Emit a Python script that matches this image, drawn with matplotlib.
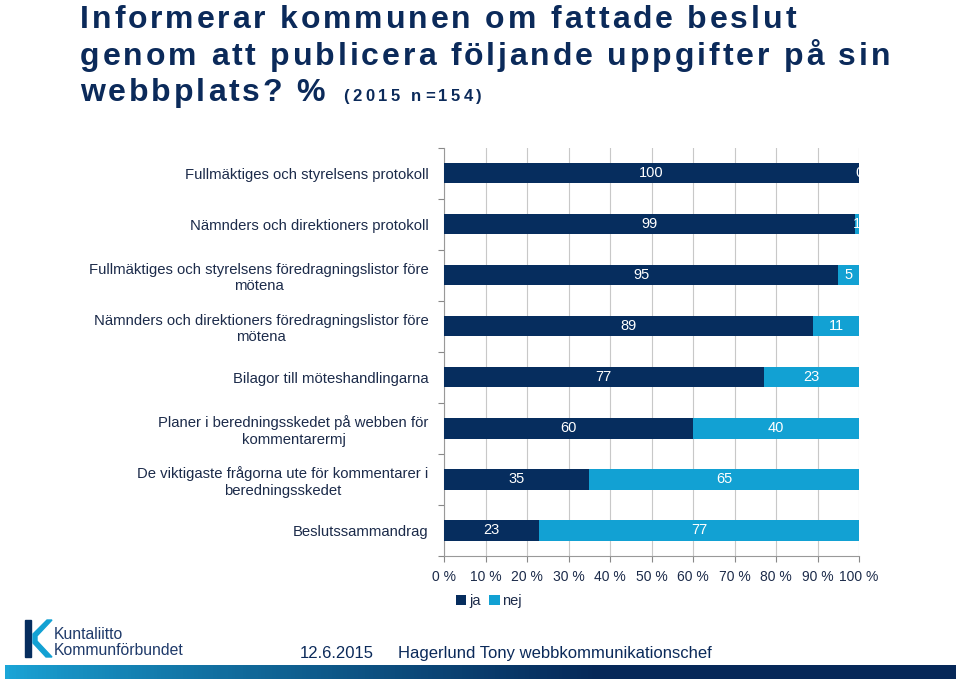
import numpy as np
import matplotlib
matplotlib.use("Agg")
import matplotlib.pyplot as plt
from matplotlib.font_manager import FontProperties
from matplotlib.patches import Rectangle, Polygon

categories = [
    "Fullmäktiges och styrelsens protokoll",
    "Nämnders och direktioners protokoll",
    "Fullmäktiges och styrelsens föredragningslistor före\nmötena",
    "Nämnders och direktioners föredragningslistor före\nmötena",
    "Bilagor till möteshandlingarna",
    "Planer i beredningsskedet på webben för\nkommentarermj",
    "De viktigaste frågorna ute för kommentarer i\nberedningsskedet",
    "Beslutssammandrag",
]
ja = [100, 99, 95, 89, 77, 60, 35, 23]
nej = [0, 1, 5, 11, 23, 40, 65, 77]
series_names = ["ja", "nej"]
xtick_vals = [0, 10, 20, 30, 40, 50, 60, 70, 80, 90, 100]
xtick_labels = [f"{v} %" for v in xtick_vals]

NAVY = "#062d5e"
CYAN = "#12a1d3"
TXT = "#1c2b4a"
W, H = 960, 681

fig = plt.figure(figsize=(9.6, 6.81), dpi=100)
fig.patch.set_facecolor("white")
renderer = fig.canvas.get_renderer()

def fx(px):
    return px / W

def fy(py):
    return 1 - py / H

def char_widths(s, prop):
    base, _, _ = renderer.get_text_width_height_descent("||", prop, ismath=False)
    out = []
    for c in s:
        w, _, _ = renderer.get_text_width_height_descent("|" + c + "|", prop, ismath=False)
        out.append(w - base)
    return out

def spaced_text(x, y, s, prop, spacing, color):
    widths = char_widths(s, prop)
    cx = x
    for c, cw in zip(s, widths):
        fig.text(fx(cx), fy(y), c, fontproperties=prop, color=color,
                 ha="left", va="baseline")
        cx += cw + spacing
    return cx

# ---- title ----
line1 = "Informerar kommunen om fattade beslut"
line2 = "genom att publicera följande uppgifter på sin"
line3 = "webbplats? %"
tprop = FontProperties(family="Liberation Sans", weight="bold", size=23)
G1 = sum(char_widths(line1, tprop))
G2 = sum(char_widths(line2, tprop))
n1, n2 = len(line1) - 1, len(line2) - 1
tsp = ((806 - 80) + (880 - 80) - G1 - G2) / (n1 + n2)
TCOL = "#0b2a5a"
spaced_text(80, 28, line1, tprop, tsp, TCOL)
spaced_text(80, 65, line2, tprop, tsp, TCOL)
spaced_text(80, 101, line3, tprop, tsp, TCOL)
sprop = FontProperties(family="Liberation Sans", weight="bold", size=12)
sub = "(2015 n=154)"
ssp = (482 - 343 - sum(char_widths(sub, sprop))) / (len(sub) - 1)
spaced_text(343, 101, sub, sprop, ssp, TCOL)

# ---- chart ----
ax = fig.add_axes([444 / W, (H - 556) / H, 415 / W, (556 - 147.5) / H])
y = np.arange(len(categories))
b1 = ax.barh(y, ja, height=0.4, color=NAVY, label=series_names[0], zorder=3)
b2 = ax.barh(y, nej, left=ja, height=0.4, color=CYAN, label=series_names[1], zorder=3)
for i in range(len(categories)):
    ax.text(ja[i] / 2, y[i], str(ja[i]), color="white", ha="center", va="center",
            fontsize=10.5, fontfamily="Liberation Sans", zorder=4)
    ax.text(ja[i] + nej[i] / 2, y[i], str(nej[i]), color="white", ha="center",
            va="center", fontsize=10.5, fontfamily="Liberation Sans", zorder=4,
            clip_on=False)

ax.set_xlim(0, 100)
ax.set_ylim(len(categories) - 0.5, -0.5)
ax.set_xticks(xtick_vals)
ax.set_xticklabels(xtick_labels, fontsize=10, color=TXT, fontfamily="Liberation Sans")
ax.tick_params(axis="x", direction="out", length=4, color="#888888", pad=6)
ax.set_yticks(np.arange(len(categories) + 1) - 0.5, minor=False)
ax.set_yticklabels([])
ax.set_yticks(y, minor=True)
ax.set_yticklabels(categories, minor=True, fontsize=10.7, color=TXT,
                   fontfamily="Liberation Sans", multialignment="center")
ax.tick_params(axis="y", which="major", direction="out", length=4, color="#888888")
ax.tick_params(axis="y", which="minor", length=0, pad=11)
ax.grid(axis="x", color="#c8c8c8", linewidth=0.8, zorder=0)
for s in ["top", "right"]:
    ax.spines[s].set_visible(False)
for s in ["left", "bottom"]:
    ax.spines[s].set_color("#999999")
    ax.spines[s].set_linewidth(0.8)

fig.legend(handles=[b1, b2], labels=series_names, loc="center",
           bbox_to_anchor=(fx(489), fy(601)), ncol=2, frameon=False,
           handlelength=0.7, handleheight=0.7, handletextpad=0.2,
           columnspacing=0.6, prop=FontProperties(family="Liberation Sans", size=10.5),
           labelcolor=TXT)

# ---- footer ----
fprop = FontProperties(family="Liberation Sans", size=12)
fig.text(fx(300), fy(658), "12.6.2015", fontproperties=fprop, color=TCOL,
         ha="left", va="baseline")
fig.text(fx(398), fy(658), "Hagerlund Tony webbkommunikationschef", fontproperties=fprop,
         color=TCOL, ha="left", va="baseline")

lprop = FontProperties(family="Liberation Sans", size=11.3)
fig.text(fx(54), fy(639), "Kuntaliitto", fontproperties=lprop, color="#1f3a6a",
         ha="left", va="baseline")
fig.text(fx(54), fy(655), "Kommunförbundet", fontproperties=lprop, color="#1f3a6a",
         ha="left", va="baseline")

# logo shapes
fig.patches.append(Rectangle((fx(25), fy(657)), 6 / W, 37 / H, transform=fig.transFigure,
                             color=NAVY))
logo_pts = [(47, 620), (52, 620), (37, 636), (37, 641), (52, 657), (46, 657),
            (33, 643), (33, 634)]
fig.patches.append(Polygon([(fx(a), fy(b)) for a, b in logo_pts], closed=True,
                           transform=fig.transFigure, color=CYAN))

# gradient bar
gax = fig.add_axes([5 / W, (H - 679) / H, 950 / W, 14 / H])
grad = np.linspace(0, 1, 256)
c0 = np.array([0x1b, 0xa6, 0xd8]) / 255
c1 = np.array([0x06, 0x28, 0x58]) / 255
t = np.clip(grad * 1.6, 0, 1) ** 0.8
cols = c0[None, :] * (1 - t[:, None]) + c1[None, :] * t[:, None]
gax.imshow(cols[None, :, :], aspect="auto", extent=[0, 1, 0, 1])
gax.axis("off")

fig.savefig("out.png", dpi=100, facecolor="white")
